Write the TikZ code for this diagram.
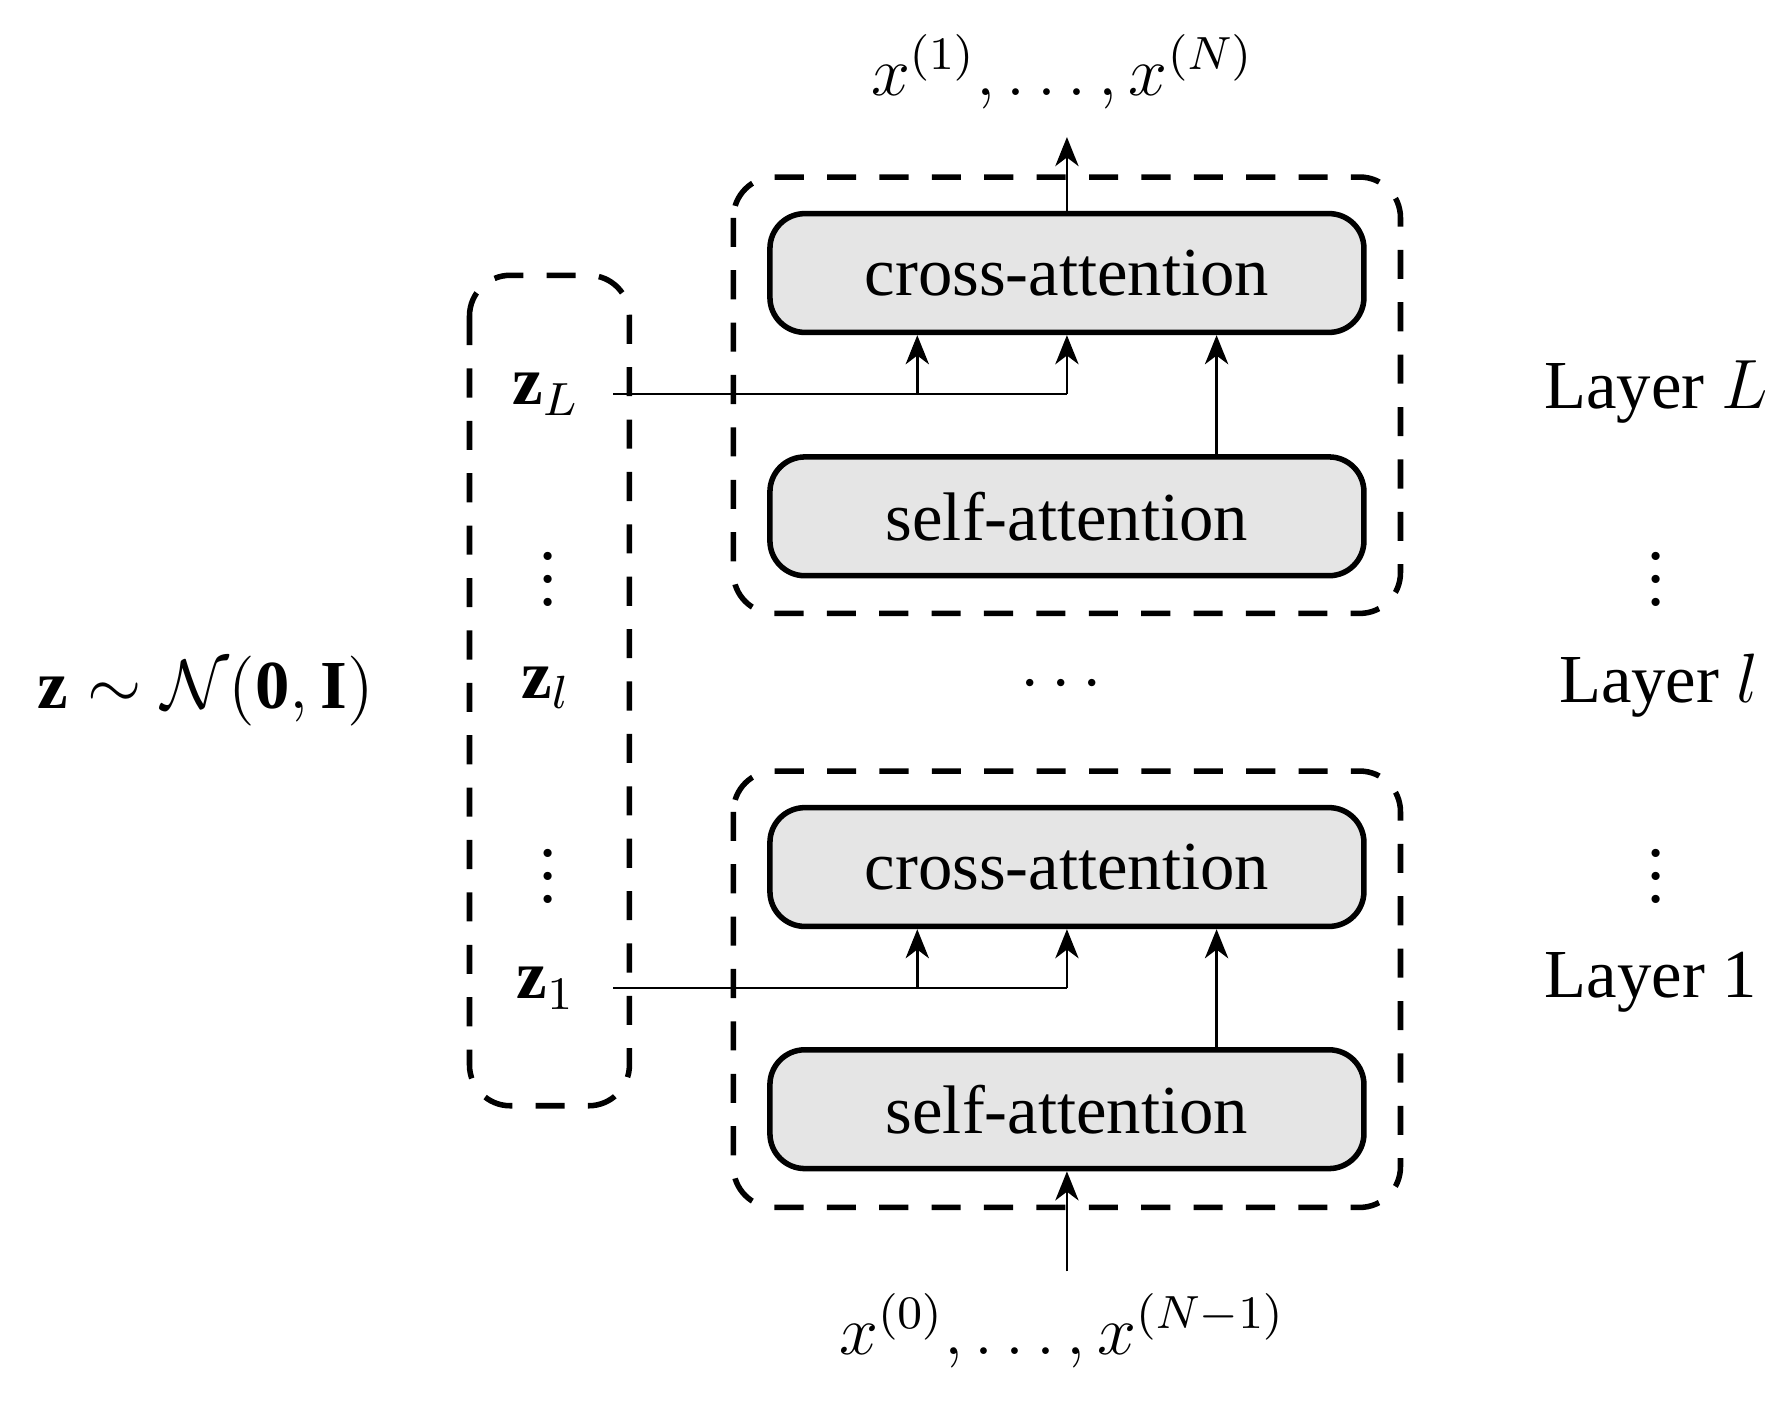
\documentclass[tikz,border=0pt]{standalone}
\usepackage{amsmath,amssymb,bm}
\usepackage{fontspec}
\setmainfont{Liberation Serif}
\usetikzlibrary{arrows.meta}
\begin{document}
\begin{tikzpicture}[x=0.0069cm,y=-0.0069cm,font=\fontsize{11.8}{14}\selectfont,
  blk/.style={draw,line width=0.95pt,rounded corners=6pt,fill=gray!20,minimum width=520*0.0069cm,minimum height=104*0.0069cm,inner sep=0pt},
  grp/.style={draw,line width=0.95pt,dash pattern=on 5pt off 4pt,rounded corners=7pt},
  arr/.style={-{Stealth[length=5pt,width=4pt,inset=1.5pt]},line width=0.45pt},
  ln/.style={line width=0.45pt}]
\useasboundingbox (0,0) rectangle (1560,1227);
\draw[grp] (642,155) rectangle (1226,537);
\draw[grp] (642,675) rectangle (1226,1057);
\draw[grp] (411,241) rectangle (551,968);
\node[blk] (c2) at (934,239) {cross-attention};
\node[blk] (s2) at (934,452) {self-attention};
\node[blk] (c1) at (934,759) {cross-attention};
\node[blk] (s1) at (934,971) {self-attention};
\node (zL) at (478,345) {$\mathbf{z}_L$};
\node[inner sep=0pt] at (480,492) {$\vdots$};
\node (zl) at (478,602) {$\mathbf{z}_l$};
\node[inner sep=0pt] at (480,752) {$\vdots$};
\node (z1) at (478,865) {$\mathbf{z}_1$};
\node (zN) at (180,605) {$\mathbf{z}\sim\mathcal{N}(\mathbf{0},\mathbf{I})$};
\node at (934,600) {$\cdots$};
\node (out) at (930,63) {$x^{(1)},\dots,x^{(N)}$};
\node (in) at (930,1165) {$x^{(0)},\dots,x^{(N-1)}$};
\node (LL) at (1450,343) {Layer $L$};
\node[inner sep=0pt] at (1450,492) {$\vdots$};
\node (Ll) at (1452,600) {Layer $l$};
\node[inner sep=0pt] at (1450,752) {$\vdots$};
\node (L1) at (1445,860) {Layer 1};
\coordinate (aL) at (537,345); \coordinate (bL) at (803,345); \coordinate (cL) at (934,345);
\draw[ln] (aL) -- (cL);
\draw[arr] (bL) -- (bL |- c2.south);
\draw[arr] (cL) -- (c2.south);
\draw[arr] (s2.north -| 1065,0) -- (c2.south -| 1065,0);
\coordinate (a1) at (537,865); \coordinate (b1) at (803,865); \coordinate (c1p) at (934,865);
\draw[ln] (a1) -- (c1p);
\draw[arr] (b1) -- (b1 |- c1.south);
\draw[arr] (c1p) -- (c1.south);
\draw[arr] (s1.north -| 1065,0) -- (c1.south -| 1065,0);
\coordinate (o) at (934,120);
\draw[arr] (c2.north) -- (o);
\coordinate (i) at (934,1113);
\draw[arr] (i) -- (s1.south);
\end{tikzpicture}
\end{document}
